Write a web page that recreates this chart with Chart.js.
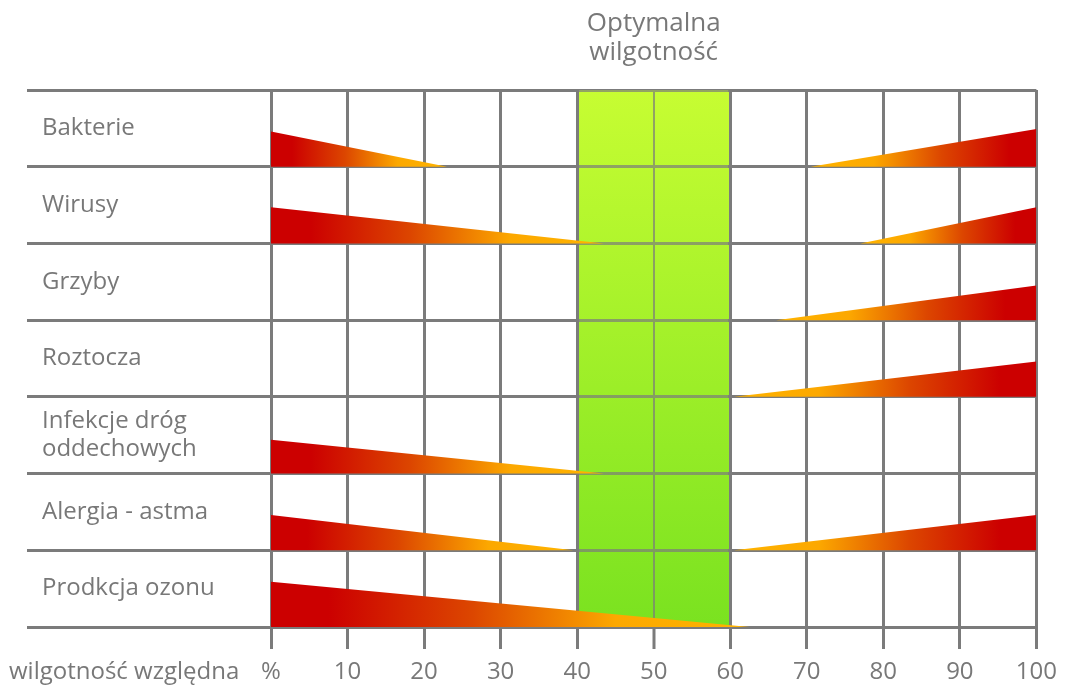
<!DOCTYPE html>
<html lang="pl">
<head>
<meta charset="utf-8">
<title>Wilgotność względna</title>
<script src="https://cdn.jsdelivr.net/npm/chart.js@4/dist/chart.umd.min.js"></script>
<style>
  html, body { margin: 0; padding: 0; background: #ffffff; }
  #wrap { width: 1066px; height: 688px; position: relative; }
</style>
</head>
<body>
<div id="wrap"><canvas id="chart"></canvas></div>
<script>
// Rows, top to bottom
const categories = [
  'Bakterie',
  'Wirusy',
  'Grzyby',
  'Roztocza',
  ['Infekcje dróg', 'oddechowych'],
  'Alergia - astma',
  'Prodkcja ozonu'
];

// Low-humidity wedge: full at 0 %, fading out at lowEnd (%); height as a share of the row
const lowEnd    = [23,   43.5, null, null, 43.5, 39.5, 62.5];
const lowHeight = [0.46, 0.47, null, null, 0.44, 0.46, 0.59];

// High-humidity wedge: starting at highStart (%), full at 100 %
const highStart  = [70.5, 77,   66,   60.5, null, 60.5, null];
const highHeight = [0.49, 0.47, 0.45, 0.46, null, 0.46, null];

// Humidity axis
const humidityTicks = [0, 10, 20, 30, 40, 50, 60, 70, 80, 90, 100];
const tickLabels = ['%', '10', '20', '30', '40', '50', '60', '70', '80', '90', '100'];

// Optimal humidity band
const optimalRange = [40, 60];
const bandTitle = ['Optymalna', 'wilgotność'];
const axisTitle = 'wilgotność względna';

const GRID = '#7b7b7b';
const TEXT = '#787878';
const FONT = "'Open Sans', 'Noto Sans', sans-serif";

Chart.defaults.font.family = FONT;
Chart.defaults.font.size = 24;
Chart.defaults.color = TEXT;

const rowCount = categories.length;
const xMin = humidityTicks[0];
const xMax = humidityTicks[humidityTicks.length - 1];

function heatGradient(chart, fromValue, toValue) {
  if (!chart.chartArea) return '#cc0000';
  const xs = chart.scales.x;
  const g = chart.ctx.createLinearGradient(xs.getPixelForValue(fromValue), 0, xs.getPixelForValue(toValue), 0);
  g.addColorStop(0, '#cc0000');
  g.addColorStop(0.12, '#cc0000');
  g.addColorStop(0.42, '#dc4600');
  g.addColorStop(0.72, '#fca800');
  g.addColorStop(1, '#ffb400');
  return g;
}

function wedge(points, base, fromValue, toValue) {
  return {
    data: points,
    fill: { value: base },
    borderWidth: 0,
    pointRadius: 0,
    pointHoverRadius: 0,
    tension: 0,
    backgroundColor: (ctx) => heatGradient(ctx.chart, fromValue, toValue)
  };
}

const datasets = [];
categories.forEach((name, i) => {
  const base = rowCount - 1 - i;
  if (lowEnd[i] !== null) {
    datasets.push(wedge(
      [{ x: xMin, y: base + lowHeight[i] }, { x: lowEnd[i], y: base }],
      base, xMin, lowEnd[i]));
  }
  if (highStart[i] !== null) {
    datasets.push(wedge(
      [{ x: highStart[i], y: base }, { x: xMax, y: base + highHeight[i] }],
      base, xMax, highStart[i]));
  }
});

function bandGradient(chart, alpha) {
  const a = chart.chartArea;
  const g = chart.ctx.createLinearGradient(0, a.top, 0, a.bottom);
  g.addColorStop(0, `rgba(199,253,50,${alpha})`);
  g.addColorStop(1, `rgba(122,226,32,${alpha})`);
  return g;
}

const optimalBand = {
  id: 'optimalBand',
  beforeDraw(chart) {
    const { ctx, chartArea: a, scales: { x } } = chart;
    const x0 = x.getPixelForValue(optimalRange[0]);
    const x1 = x.getPixelForValue(optimalRange[1]);
    ctx.save();
    ctx.fillStyle = bandGradient(chart, 1);
    ctx.fillRect(x0, a.top, x1 - x0, a.bottom - a.top);
    ctx.restore();
  },
  beforeDatasetsDraw(chart) {
    // tint the grid lines that run through the band
    const { ctx, chartArea: a, scales: { x } } = chart;
    const x0 = x.getPixelForValue(optimalRange[0]) + 2;
    const x1 = x.getPixelForValue(optimalRange[1]) - 2;
    ctx.save();
    ctx.fillStyle = bandGradient(chart, 0.3);
    ctx.fillRect(x0, a.top, x1 - x0, a.bottom - a.top);
    ctx.restore();
  },
  afterDraw(chart) {
    const { ctx, scales: { x } } = chart;
    ctx.save();
    ctx.fillStyle = TEXT;
    ctx.font = `26px ${FONT}`;
    ctx.textAlign = 'center';
    ctx.textBaseline = 'alphabetic';
    const cx = x.getPixelForValue((optimalRange[0] + optimalRange[1]) / 2);
    bandTitle.forEach((line, i) => ctx.fillText(line, cx, 31 + i * 29));
    ctx.font = `24px ${FONT}`;
    ctx.textAlign = 'left';
    ctx.textBaseline = 'middle';
    ctx.fillText(axisTitle, 9, x.top + 22 + 9 + 14.4);
    ctx.restore();
  }
};

new Chart(document.getElementById('chart'), {
  type: 'line',
  data: { datasets },
  options: {
    responsive: true,
    maintainAspectRatio: false,
    animation: false,
    events: [],
    layout: { padding: { left: 42, right: 28, top: 90, bottom: 0 } },
    plugins: { legend: { display: false }, tooltip: { enabled: false } },
    scales: {
      x: {
        type: 'linear',
        min: xMin,
        max: xMax,
        afterBuildTicks: (scale) => { scale.ticks = humidityTicks.map(v => ({ value: v })); },
        afterFit: (scale) => { scale.height = 61; },
        border: { display: false },
        grid: {
          color: GRID,
          lineWidth: (c) => (c.tick && c.tick.value === 50 ? 2 : 3),
          tickWidth: 3,
          tickLength: 22
        },
        ticks: {
          padding: 9,
          maxRotation: 0,
          autoSkip: false,
          callback: (value, index) => tickLabels[index]
        }
      },
      y: {
        type: 'linear',
        min: 0,
        max: rowCount,
        afterBuildTicks: (scale) => {
          const t = [];
          for (let v = 0; v <= rowCount; v += 0.5) t.push({ value: v });
          scale.ticks = t;
        },
        afterFit: (scale) => { scale.width = 229; },
        border: { display: false },
        grid: {
          color: (c) => (c.tick && c.tick.value % 1 === 0 ? GRID : 'rgba(0,0,0,0)'),
          lineWidth: 3,
          tickLength: 244
        },
        ticks: {
          autoSkip: false,
          crossAlign: 'far',
          padding: 0,
          callback: (value) => (value % 1 === 0 ? '' : categories[rowCount - 1 - Math.floor(value)])
        }
      }
    }
  },
  plugins: [optimalBand]
});
</script>
</body>
</html>
